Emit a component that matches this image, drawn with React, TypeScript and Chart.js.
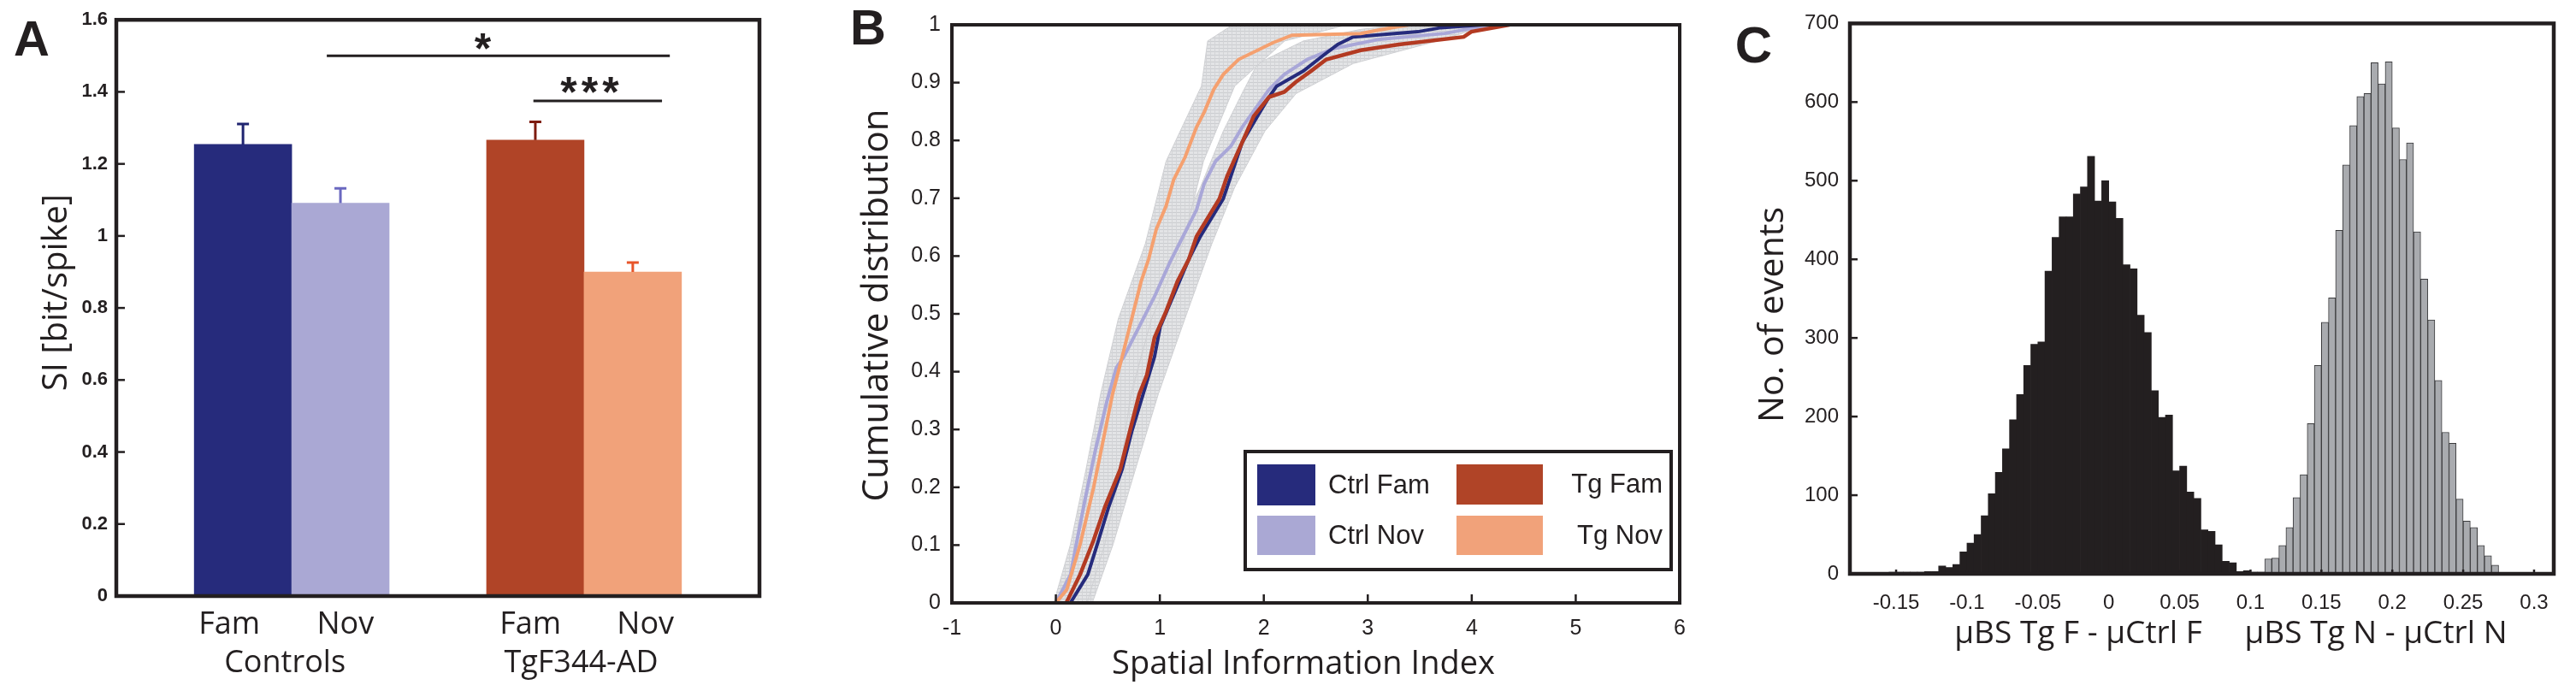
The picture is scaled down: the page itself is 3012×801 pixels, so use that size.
import React, { useEffect, useRef } from 'react';
import { Chart, registerables } from 'chart.js';

Chart.register(...registerables);
Chart.defaults.font.family = "'Liberation Sans', Arial, sans-serif";
Chart.defaults.color = '#231f20';

// ---------------- Panel A data ----------------
const barSeries = ['Ctrl Fam', 'Ctrl Nov', 'Tg Fam', 'Tg Nov'];
const barX = [1.3, 2.3, 4.3, 5.3];
const barMeans = [1.254, 1.091, 1.266, 0.9];
const barErrors = [0.057, 0.041, 0.051, 0.026];
const barLabels = ['Fam', 'Nov', 'Fam', 'Nov'];
const barLabelX = [1.16, 2.35, 4.25, 5.43];
const groupLabels = ['Controls', 'TgF344-AD'];
const groupLabelX = [1.73, 4.77];
const aYTicks = [0, 0.2, 0.4, 0.6, 0.8, 1, 1.2, 1.4, 1.6];
const sigText = ['*', '***'];
const sigFrom = [2.16, 4.28];
const sigTo = [5.68, 5.6];
const sigLevel = [1.5, 1.375];
const sigTextX = [3.76, 4.88];
const sigTextY = [1.548, 1.425];

// ---------------- Panel B data ----------------
const ctrlFamX = [0.14, 0.307, 0.398, 0.508, 0.637, 0.729, 0.839, 0.949, 1.004, 1.096, 1.188, 1.28, 1.39, 1.61, 1.683, 1.793, 1.94, 2.05, 2.124, 2.38, 2.564, 2.711, 2.858, 3.482, 3.703, 4.1];
const ctrlFamY = [0, 0.049, 0.101, 0.166, 0.231, 0.296, 0.361, 0.426, 0.478, 0.517, 0.556, 0.595, 0.634, 0.699, 0.738, 0.797, 0.842, 0.875, 0.894, 0.92, 0.946, 0.966, 0.979, 0.988, 0.995, 1.0];
const ctrlNovX = [0.0, 0.141, 0.196, 0.281, 0.38, 0.49, 0.582, 0.655, 0.802, 0.949, 1.096, 1.206, 1.353, 1.426, 1.536, 1.683, 1.793, 2.05, 2.197, 2.417, 2.674, 3.115, 3.739, 4.033, 4.2];
const ctrlNovY = [0, 0.049, 0.101, 0.179, 0.264, 0.348, 0.407, 0.426, 0.478, 0.53, 0.589, 0.628, 0.68, 0.725, 0.764, 0.79, 0.823, 0.888, 0.914, 0.94, 0.959, 0.975, 0.985, 0.995, 1.0];
const tgFamX = [0.1, 0.233, 0.362, 0.472, 0.619, 0.71, 0.802, 0.875, 0.949, 1.059, 1.169, 1.28, 1.353, 1.573, 1.647, 1.793, 1.903, 2.05, 2.197, 2.307, 2.454, 2.601, 2.932, 3.299, 3.923, 3.996, 4.363];
const tgFamY = [0, 0.049, 0.108, 0.166, 0.231, 0.296, 0.361, 0.394, 0.459, 0.504, 0.556, 0.595, 0.634, 0.699, 0.738, 0.797, 0.842, 0.875, 0.884, 0.901, 0.92, 0.94, 0.956, 0.966, 0.979, 0.988, 1.0];
const tgNovX = [0.0, 0.105, 0.233, 0.362, 0.472, 0.545, 0.648, 0.729, 0.82, 0.893, 0.967, 1.059, 1.133, 1.243, 1.353, 1.427, 1.518, 1.61, 1.757, 1.94, 2.087, 2.27, 2.932, 3.078, 3.3, 3.4];
const tgNovY = [0, 0.023, 0.101, 0.199, 0.296, 0.361, 0.433, 0.491, 0.556, 0.595, 0.647, 0.686, 0.732, 0.771, 0.823, 0.849, 0.888, 0.914, 0.94, 0.956, 0.969, 0.982, 0.985, 0.99, 0.997, 1.0];
// bootstrap envelopes (grey bands)
const bandNovY = [0, 0.101, 0.231, 0.361, 0.491, 0.621, 0.764, 0.894, 0.972, 1.0];
const bandNovLeft = [-0.02, 0.14, 0.29, 0.43, 0.6, 0.86, 1.06, 1.4, 1.46, 1.7];
const bandNovRight = [0.3, 0.47, 0.62, 0.72, 0.92, 1.22, 1.42, 1.72, 2.2, 2.8];
const bandFamY = [0, 0.101, 0.231, 0.361, 0.491, 0.621, 0.719, 0.816, 0.881, 0.933, 0.972, 0.992, 1.0];
const bandFamLeft = [0.15, 0.32, 0.545, 0.73, 0.91, 1.13, 1.39, 1.61, 1.79, 1.94, 2.38, 2.93, 3.3];
const bandFamRight = [0.35, 0.55, 0.765, 0.985, 1.24, 1.5, 1.72, 2.01, 2.31, 2.86, 3.67, 4.03, 4.3];
const bXTicks = [-1, 0, 1, 2, 3, 4, 5, 6];
const bYTicks = [0, 0.1, 0.2, 0.3, 0.4, 0.5, 0.6, 0.7, 0.8, 0.9, 1];

// ---------------- Panel C data ----------------
const blackBinCenters = [-0.1725, -0.1675, -0.1625, -0.1575, -0.1525, -0.1475, -0.1425, -0.1375, -0.1325, -0.1275, -0.1225, -0.1175, -0.1125, -0.1075, -0.1025, -0.0975, -0.0925, -0.0875, -0.0825, -0.0775, -0.0725, -0.0675, -0.0625, -0.0575, -0.0525, -0.0475, -0.0425, -0.0375, -0.0325, -0.0275, -0.0225, -0.0175, -0.0125, -0.0075, -0.0025, 0.0025, 0.0075, 0.0125, 0.0175, 0.0225, 0.0275, 0.0325, 0.0375, 0.0425, 0.0475, 0.0525, 0.0575, 0.0625, 0.0675, 0.0725, 0.0775, 0.0825, 0.0875, 0.0925, 0.0975, 0.1025, 0.1075];
const blackCounts = [1, 1, 1, 1, 2, 2, 2, 2, 2, 3, 3, 10, 8, 12, 28, 39, 50, 74, 102, 129, 159, 196, 228, 265, 292, 295, 385, 428, 454, 454, 483, 492, 531, 474, 500, 473, 452, 393, 388, 329, 307, 233, 199, 202, 131, 137, 104, 96, 56, 54, 37, 16, 14, 3, 4, 2, 2];
const greyBinCenters = [0.1125, 0.1175, 0.1225, 0.1275, 0.1325, 0.1375, 0.1425, 0.1475, 0.1525, 0.1575, 0.1625, 0.1675, 0.1725, 0.1775, 0.1825, 0.1875, 0.1925, 0.1975, 0.2025, 0.2075, 0.2125, 0.2175, 0.2225, 0.2275, 0.2325, 0.2375, 0.2425, 0.2475, 0.2525, 0.2575, 0.2625, 0.2675, 0.2725];
const greyCounts = [19, 20, 36, 59, 97, 126, 191, 265, 320, 351, 437, 520, 570, 607, 611, 650, 623, 651, 567, 527, 548, 435, 375, 323, 246, 180, 166, 95, 67, 59, 36, 23, 11];
const cXTicks = [-0.15, -0.1, -0.05, 0, 0.05, 0.1, 0.15, 0.2, 0.25, 0.3];
const cYTicks = [0, 100, 200, 300, 400, 500, 600, 700];

// ---------------- styles ----------------
const INK = '#231f20';
const barColors = ['#262b7c', '#aaa8d4', '#b04427', '#f1a27a'];
const errColors = ['#1f2470', '#6a68c0', '#7e1c10', '#e8552a'];
const SANS = "'Liberation Sans', Arial, sans-serif";
const OPEN = "'Open Sans', 'Noto Sans', sans-serif";

const fmt = (v: number) => String(Number(v.toFixed(4)));

// light hatched grey, imitating the many overlaid bootstrap step curves
function hatchPattern(): any {
  const c = document.createElement('canvas');
  c.width = 5;
  c.height = 4;
  const g = c.getContext('2d') as CanvasRenderingContext2D;
  g.fillStyle = '#e3e4e6';
  g.fillRect(0, 0, 5, 4);
  g.fillStyle = '#cbcdd0';
  g.fillRect(0, 0, 5, 1);
  g.fillStyle = '#d3d4d7';
  g.fillRect(0, 0, 1, 4);
  return g.createPattern(c, 'repeat');
}

// ---------------- plugins ----------------
const framePlugin = {
  id: 'frame',
  afterDraw(chart: any, _a: any, o: any) {
    const { ctx, chartArea: a } = chart;
    ctx.save();
    ctx.strokeStyle = INK;
    ctx.lineWidth = o.tickWidth || 2.5;
    for (const t of o.ticks || []) {
      const s = chart.scales[t.axis];
      for (const tk of s.ticks) {
        const p = s.getPixelForValue(tk.value);
        ctx.beginPath();
        if (s.isHorizontal()) {
          ctx.moveTo(p, a.bottom);
          ctx.lineTo(p, a.bottom - t.len);
        } else {
          ctx.moveTo(a.left, p);
          ctx.lineTo(a.left + t.len, p);
        }
        ctx.stroke();
      }
    }
    ctx.lineWidth = o.lineWidth || 4;
    ctx.strokeRect(a.left, a.top, a.right - a.left, a.bottom - a.top);
    ctx.restore();
  },
};

const textPlugin = {
  id: 'texts',
  afterDraw(chart: any, _a: any, o: any) {
    const { ctx } = chart;
    for (const it of o.items || []) {
      ctx.save();
      ctx.translate(it.x, it.y);
      if (it.rot) ctx.rotate(it.rot);
      ctx.font = it.font;
      ctx.fillStyle = INK;
      ctx.textAlign = it.align || 'center';
      ctx.textBaseline = it.baseline || 'middle';
      ctx.fillText(it.text, 0, 0);
      ctx.restore();
    }
  },
};

const errorBarPlugin = {
  id: 'errorBars',
  afterDatasetsDraw(chart: any, _a: any, o: any) {
    const { ctx } = chart;
    const xs = chart.scales.x;
    const ys = chart.scales.y;
    ctx.save();
    ctx.lineWidth = o.lineWidth;
    barX.forEach((xv, i) => {
      const px = xs.getPixelForValue(xv);
      const base = ys.getPixelForValue(barMeans[i]);
      const top = ys.getPixelForValue(barMeans[i] + barErrors[i]);
      ctx.strokeStyle = errColors[i];
      ctx.beginPath();
      ctx.moveTo(px, base);
      ctx.lineTo(px, top);
      ctx.moveTo(px - o.cap, top);
      ctx.lineTo(px + o.cap, top);
      ctx.stroke();
    });
    ctx.restore();
  },
};

const sigPlugin = {
  id: 'sig',
  afterDatasetsDraw(chart: any, _a: any, o: any) {
    const { ctx } = chart;
    const xs = chart.scales.x;
    const ys = chart.scales.y;
    ctx.save();
    ctx.strokeStyle = INK;
    ctx.fillStyle = INK;
    ctx.lineWidth = 3;
    sigText.forEach((t, i) => {
      const y = ys.getPixelForValue(sigLevel[i]);
      ctx.beginPath();
      ctx.moveTo(xs.getPixelForValue(sigFrom[i]), y);
      ctx.lineTo(xs.getPixelForValue(sigTo[i]), y);
      ctx.stroke();
      ctx.font = `bold ${o.size}px ${SANS}`;
      (ctx as any).letterSpacing = t.length > 1 ? '5px' : '0px';
      ctx.textAlign = 'center';
      ctx.textBaseline = 'alphabetic';
      ctx.fillText(t, xs.getPixelForValue(sigTextX[i]), ys.getPixelForValue(sigTextY[i]) + o.size * 0.57);
    });
    ctx.restore();
  },
};

const boxLegendPlugin = {
  id: 'boxLegend',
  afterDraw(chart: any, _a: any, o: any) {
    if (!o || !o.items) return;
    const { ctx, chartArea: a } = chart;
    const right = a.right - o.right;
    const bottom = a.bottom - o.bottom;
    const left = right - o.width;
    const top = bottom - o.height;
    ctx.save();
    ctx.fillStyle = '#ffffff';
    ctx.fillRect(left, top, o.width, o.height);
    ctx.lineWidth = 4;
    ctx.strokeStyle = INK;
    ctx.strokeRect(left, top, o.width, o.height);
    for (const it of o.items) {
      const ds = chart.data.datasets[it.dataset];
      ctx.fillStyle = it.color;
      ctx.fillRect(left + it.sx, top + it.sy, it.sw, it.sh);
      ctx.fillStyle = INK;
      ctx.font = o.font;
      ctx.textAlign = it.align;
      ctx.textBaseline = 'middle';
      ctx.fillText(ds.label, left + it.tx, top + it.sy + it.sh / 2 + 1);
    }
    ctx.restore();
  },
};

const hidden = { display: false, drawTicks: false };
const noBorder = { display: false };

// ---------------- configs ----------------
function makeA(): any {
  return {
    type: 'bar',
    data: {
      datasets: [
        {
          label: 'SI [bit/spike]',
          data: barX.map((x, i) => ({ x, y: barMeans[i], series: barSeries[i] })),
          backgroundColor: barColors,
          borderWidth: 0,
          barPercentage: 1,
          categoryPercentage: 1,
          xAxisID: 'x',
          yAxisID: 'y',
        },
      ],
    },
    options: {
      animation: false,
      responsive: false,
      devicePixelRatio: 1,
      layout: { padding: { top: 21, right: 97, left: 0, bottom: 0 } },
      plugins: {
        legend: { display: false },
        tooltip: { enabled: false },
        frame: { lineWidth: 4.5, tickWidth: 2.5, ticks: [{ axis: 'y', len: 10 }] },
        errorBars: { lineWidth: 3, cap: 7 },
        sig: { size: 50 },
        texts: {
          items: [
            { text: 'A', x: 16, y: 65, font: `bold 58px ${SANS}`, align: 'left', baseline: 'alphabetic' },
            { text: 'SI [bit/spike]', x: 67, y: 342, rot: -Math.PI / 2, font: `40px ${OPEN}` },
          ],
        },
      },
      scales: {
        x: {
          type: 'linear',
          min: 0,
          max: 6.6,
          offset: false,
          weight: 0,
          grid: hidden,
          border: noBorder,
          afterBuildTicks: (s: any) => {
            s.ticks = barLabelX.map((v) => ({ value: v }));
          },
          afterFit: (s: any) => {
            s.height = 50;
          },
          ticks: {
            autoSkip: false,
            maxRotation: 0,
            padding: 12,
            font: { family: OPEN, size: 36 },
            callback: (_v: any, i: number) => barLabels[i],
          },
        },
        x2: {
          type: 'linear',
          position: 'bottom',
          min: 0,
          max: 6.6,
          offset: false,
          weight: 1,
          grid: hidden,
          border: noBorder,
          afterBuildTicks: (s: any) => {
            s.ticks = groupLabelX.map((v) => ({ value: v }));
          },
          afterFit: (s: any) => {
            s.height = 54;
          },
          ticks: {
            autoSkip: false,
            maxRotation: 0,
            padding: 7,
            font: { family: OPEN, size: 36 },
            callback: (_v: any, i: number) => groupLabels[i],
          },
        },
        y: {
          type: 'linear',
          min: 0,
          max: 1.6,
          grid: hidden,
          border: noBorder,
          afterBuildTicks: (s: any) => {
            s.ticks = aYTicks.map((v) => ({ value: v }));
          },
          afterFit: (s: any) => {
            s.width = 136;
          },
          ticks: { padding: 10, font: { family: SANS, size: 22, weight: 'bold' }, callback: (v: number) => fmt(v) },
        },
      },
    },
    plugins: [framePlugin, errorBarPlugin, sigPlugin, textPlugin],
  };
}

const pts = (xs: number[], ys: number[]) => xs.map((x, i) => ({ x, y: ys[i] }));
const band = (ys: number[], l: number[], r: number[]) => [
  ...l.map((x, i) => ({ x, y: ys[i] })),
  ...r.map((x, i) => ({ x, y: ys[i] })).reverse(),
];

function makeB(): any {
  const pattern = hatchPattern();
  const line = (label: string, data: any[], color: string, w: number) => ({
    label,
    data,
    borderColor: color,
    backgroundColor: color,
    borderWidth: w,
    pointRadius: 0,
    tension: 0,
    fill: false,
    order: 1,
  });
  const shade = (label: string, data: any[]) => ({
    label,
    data,
    borderColor: '#cfd0d3',
    backgroundColor: pattern,
    borderWidth: 1,
    pointRadius: 0,
    tension: 0,
    fill: 'shape',
    order: 2,
  });
  return {
    type: 'line',
    data: {
      datasets: [
        line('Tg Fam', pts(tgFamX, tgFamY), '#b33a22', 4.5),
        line('Tg Nov', pts(tgNovX, tgNovY), '#f5a06f', 4),
        line('Ctrl Fam', pts(ctrlFamX, ctrlFamY), '#262b7c', 4),
        line('Ctrl Nov', pts(ctrlNovX, ctrlNovY), '#a9a7d8', 4),
        shade('Bootstrap Nov', band(bandNovY, bandNovLeft, bandNovRight)),
        shade('Bootstrap Fam', band(bandFamY, bandFamLeft, bandFamRight)),
      ],
    },
    options: {
      animation: false,
      responsive: false,
      devicePixelRatio: 1,
      layout: { padding: { top: 29, right: 36, left: 0, bottom: 0 } },
      plugins: {
        legend: { display: false },
        tooltip: { enabled: false },
        frame: { lineWidth: 4, tickWidth: 2.5, ticks: [{ axis: 'y', len: 9 }, { axis: 'x', len: 10 }] },
        boxLegend: {
          right: 10,
          bottom: 39,
          width: 498,
          height: 138,
          font: `31px ${SANS}`,
          items: [
            { dataset: 2, color: barColors[0], sx: 14, sy: 15, sw: 68, sh: 48, tx: 97, align: 'left' },
            { dataset: 3, color: barColors[1], sx: 14, sy: 75, sw: 68, sh: 46, tx: 97, align: 'left' },
            { dataset: 0, color: barColors[2], sx: 247, sy: 15, sw: 101, sh: 47, tx: 488, align: 'right' },
            { dataset: 1, color: barColors[3], sx: 247, sy: 75, sw: 101, sh: 46, tx: 488, align: 'right' },
          ],
        },
        texts: {
          items: [
            { text: 'B', x: 9, y: 52, font: `bold 58px ${SANS}`, align: 'left', baseline: 'alphabetic' },
            { text: 'Cumulative distribution', x: 41, y: 357, rot: -Math.PI / 2, font: `42px ${OPEN}` },
            { text: 'Spatial Information Index', x: 539, y: 777, font: `38px ${OPEN}` },
          ],
        },
      },
      scales: {
        x: {
          type: 'linear',
          min: -1,
          max: 6,
          offset: false,
          grid: hidden,
          border: noBorder,
          afterBuildTicks: (s: any) => {
            s.ticks = bXTicks.map((v) => ({ value: v }));
          },
          afterFit: (s: any) => {
            s.height = 96;
          },
          ticks: { autoSkip: false, maxRotation: 0, padding: 15, font: { family: SANS, size: 25 }, callback: (v: number) => fmt(v) },
        },
        y: {
          type: 'linear',
          min: 0,
          max: 1,
          grid: hidden,
          border: noBorder,
          afterBuildTicks: (s: any) => {
            s.ticks = bYTicks.map((v) => ({ value: v }));
          },
          afterFit: (s: any) => {
            s.width = 128;
          },
          ticks: { padding: 13, font: { family: SANS, size: 25 }, callback: (v: number) => fmt(v) },
        },
      },
    },
    plugins: [framePlugin, boxLegendPlugin, textPlugin],
  };
}

function makeC(): any {
  return {
    type: 'bar',
    data: {
      datasets: [
        {
          label: 'µBS Tg F - µCtrl F',
          data: pts(blackBinCenters, blackCounts),
          backgroundColor: INK,
          borderWidth: 0,
          barPercentage: 1,
          categoryPercentage: 1,
          grouped: false,
        },
        {
          label: 'µBS Tg N - µCtrl N',
          data: pts(greyBinCenters, greyCounts),
          backgroundColor: '#a9abaf',
          borderColor: '#3a3a3c',
          borderWidth: 1,
          borderSkipped: 'start',
          barPercentage: 1,
          categoryPercentage: 1,
          grouped: false,
        },
      ],
    },
    options: {
      animation: false,
      responsive: false,
      devicePixelRatio: 1,
      layout: { padding: { top: 25, right: 26, left: 0, bottom: 0 } },
      plugins: {
        legend: { display: false },
        tooltip: { enabled: false },
        frame: { lineWidth: 4.5, tickWidth: 2.5, ticks: [{ axis: 'y', len: 9 }, { axis: 'x', len: 5 }] },
        texts: {
          items: [
            { text: 'C', x: 72, y: 73, font: `bold 60px ${SANS}`, align: 'right', baseline: 'alphabetic' },
            { text: 'No. of events', x: 73, y: 368, rot: -Math.PI / 2, font: `41px ${OPEN}` },
            { text: 'µBS Tg F - µCtrl F', x: 430, y: 741, font: `37px ${OPEN}` },
            { text: 'µBS Tg N - µCtrl N', x: 778, y: 741, font: `37px ${OPEN}` },
          ],
        },
      },
      scales: {
        x: {
          type: 'linear',
          min: -0.1826,
          max: 0.3139,
          offset: false,
          grid: hidden,
          border: noBorder,
          afterBuildTicks: (s: any) => {
            s.ticks = cXTicks.map((v) => ({ value: v }));
          },
          afterFit: (s: any) => {
            s.height = 130;
          },
          ticks: { autoSkip: false, maxRotation: 0, padding: 20, font: { family: SANS, size: 24 }, callback: (v: number) => fmt(v) },
        },
        y: {
          type: 'linear',
          min: 0,
          max: 700,
          grid: hidden,
          border: noBorder,
          afterBuildTicks: (s: any) => {
            s.ticks = cYTicks.map((v) => ({ value: v }));
          },
          afterFit: (s: any) => {
            s.width = 163;
          },
          ticks: { padding: 13, font: { family: SANS, size: 24 }, callback: (v: number) => fmt(v) },
        },
      },
    },
    plugins: [framePlugin, textPlugin],
  };
}

function Panel({ make, left, width }: { make: () => any; left: number; width: number }) {
  const ref = useRef<HTMLCanvasElement>(null);
  useEffect(() => {
    const chart = new Chart(ref.current as HTMLCanvasElement, make());
    return () => chart.destroy();
  }, []);
  return (
    <canvas
      ref={ref}
      width={width}
      height={801}
      style={{ position: 'absolute', left, top: 0, width, height: 801 }}
    />
  );
}

export default function App() {
  useEffect(() => {
    document.body.style.margin = '0';
    document.body.style.background = '#ffffff';
  }, []);
  return (
    <div style={{ position: 'relative', width: 3012, height: 801, background: '#ffffff', overflow: 'hidden' }}>
      <Panel make={makeA} left={0} width={985} />
      <Panel make={makeB} left={985} width={1015} />
      <Panel make={makeC} left={2000} width={1012} />
    </div>
  );
}
